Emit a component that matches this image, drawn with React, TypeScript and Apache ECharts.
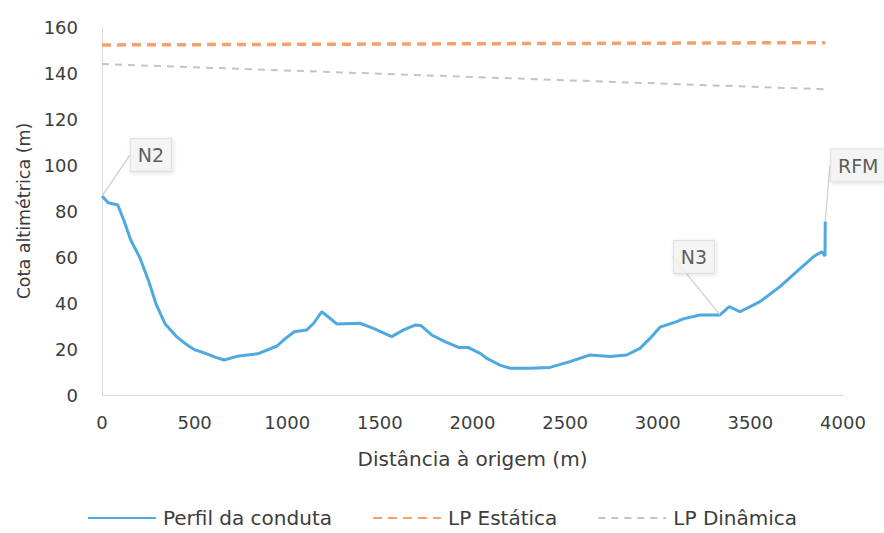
import React, { useEffect, useRef } from "react";
import * as echarts from "echarts";

// Perfil da conduta: distância (m) e cota (m)
const profileX = [
  0, 34, 85, 118, 155, 205, 250, 292, 340, 402, 452, 502, 545, 610, 658, 740, 840,
  945, 980, 1038, 1105, 1143, 1186, 1224, 1267, 1393, 1465, 1564, 1628, 1690, 1722,
  1780, 1851, 1928, 1978, 2041, 2078, 2148, 2203, 2310, 2418, 2526, 2634, 2742, 2832,
  2904, 2958, 3012, 3102, 3138, 3228, 3336, 3386, 3444, 3552, 3660, 3750, 3840, 3885,
  3903, 3904,
];
const profileY = [
  86.5, 83.6, 82.6, 76.0, 67.4, 59.6, 50.0, 39.5, 31.0, 25.4, 22.2, 19.6, 18.5, 16.5,
  15.2, 17.0, 17.9, 21.3, 23.9, 27.5, 28.3, 31.2, 36.2, 33.8, 30.9, 31.2, 29.0, 25.4,
  28.3, 30.4, 30.2, 26.1, 23.2, 20.6, 20.6, 18.1, 15.9, 13.0, 11.6, 11.6, 12.0, 14.5,
  17.4, 16.7, 17.4, 20.3, 24.6, 29.5, 31.9, 33.1, 34.8, 34.8, 38.4, 36.2, 40.6, 47.1,
  53.6, 60.1, 62.3, 60.4, 75.4,
];

// Linhas piezométricas
const lpX = [0, 3904];
const lpEstatica = [152.2, 153.2];
const lpDinamica = [143.9, 132.9];

// Pontos notáveis (índice no perfil)
const nodeNames = ["N2", "N3", "RFM"];
const nodeIndex = [0, 51, 60];

const xTicks = { min: 0, max: 4000, interval: 500 };
const yTicks = { min: 0, max: 160, interval: 20 };

const seriesNames = ["Perfil da conduta", "LP Estática", "LP Dinâmica"];

// label offsets (styling)
const labelOffsets = [
  { dx: 49, dy: -41 },
  { dx: -26, dy: -58 },
  { dx: 33, dy: -56 },
];

const FONT = "DejaVu Sans";
const TEXT = "#3d3d3d";

export default function App() {
  const ref = useRef<HTMLDivElement>(null);

  useEffect(() => {
    if (!ref.current) return;
    const chart = echarts.init(ref.current, null, { renderer: "svg" });

    const profile = profileX.map((x, i) => [x, profileY[i]]);
    const est = lpX.map((x, i) => [x, lpEstatica[i]]);
    const din = lpX.map((x, i) => [x, lpDinamica[i]]);
    const nodes = nodeIndex.map((idx, i) => ({
      value: [profileX[idx], profileY[idx]],
      name: nodeNames[i],
    }));

    chart.setOption({
      animation: false,
      backgroundColor: "#ffffff",
      textStyle: { fontFamily: FONT, color: TEXT },
      grid: { left: 102, right: 41, top: 27, bottom: 138 },
      legend: {
        data: seriesNames,
        left: "center",
        top: 508,
        padding: 0,
        itemWidth: 68,
        itemHeight: 14,
        itemGap: 40,
        itemStyle: { opacity: 0 },
        textStyle: { fontSize: 20, color: TEXT, fontFamily: FONT, padding: [0, 0, 0, 2] },
      },
      xAxis: {
        type: "value",
        min: xTicks.min,
        max: xTicks.max,
        interval: xTicks.interval,
        name: "Distância à origem (m)",
        nameLocation: "middle",
        nameGap: 54,
        nameTextStyle: { fontSize: 20, color: TEXT },
        axisLine: { show: true, lineStyle: { color: "#d9d9d9", width: 1 } },
        axisTick: { show: false },
        splitLine: { show: false },
        axisLabel: {
          fontSize: 18,
          color: TEXT,
          margin: 18,
          formatter: (v: number) => String(v),
        },
      },
      yAxis: {
        type: "value",
        min: yTicks.min,
        max: yTicks.max,
        interval: yTicks.interval,
        name: "Cota altimétrica (m)",
        nameLocation: "middle",
        nameGap: 65,
        nameTextStyle: { fontSize: 17.5, color: TEXT },
        axisLine: { show: true, lineStyle: { color: "#d9d9d9", width: 1 } },
        axisTick: { show: false },
        splitLine: { show: false },
        axisLabel: { fontSize: 18, color: TEXT, margin: 24 },
      },
      series: [
        {
          name: seriesNames[0],
          type: "line",
          data: profile,
          symbol: "none",
          smooth: false,
          lineStyle: { color: "#4ea9e0", width: 3 },
          itemStyle: { color: "#4ea9e0" },
          z: 3,
        },
        {
          name: seriesNames[1],
          type: "line",
          data: est,
          symbol: "none",
          lineStyle: { color: "#f5a06e", width: 3.5, type: [9, 6] },
          itemStyle: { color: "#f5a06e" },
        },
        {
          name: seriesNames[2],
          type: "line",
          data: din,
          symbol: "none",
          lineStyle: { color: "#c4c4c4", width: 2, type: [7, 6] },
          itemStyle: { color: "#c4c4c4" },
        },
        {
          name: "Nós",
          type: "scatter",
          data: nodes,
          symbolSize: 0,
          z: 5,
          silent: true,
          label: {
            show: true,
            position: "inside",
            formatter: "{b}",
            fontSize: 19,
            fontFamily: FONT,
            color: "#333333",
            backgroundColor: "#f5f5f5",
            borderColor: "#dcdcdc",
            borderWidth: 1,
            padding: [7, 7, 6, 7],
            shadowBlur: 4,
            shadowColor: "rgba(0,0,0,0.15)",
            shadowOffsetX: 1,
            shadowOffsetY: 1,
          },
          labelLine: {
            show: true,
            lineStyle: { color: "#cfcfcf", width: 1.2 },
          },
          labelLayout: (params: any) => labelOffsets[params.dataIndex],
        },
      ],
    });

    return () => chart.dispose();
  }, []);

  return (
    <div
      ref={ref}
      style={{ position: "fixed", left: 0, top: 0, width: 884, height: 533, background: "#fff" }}
    />
  );
}
